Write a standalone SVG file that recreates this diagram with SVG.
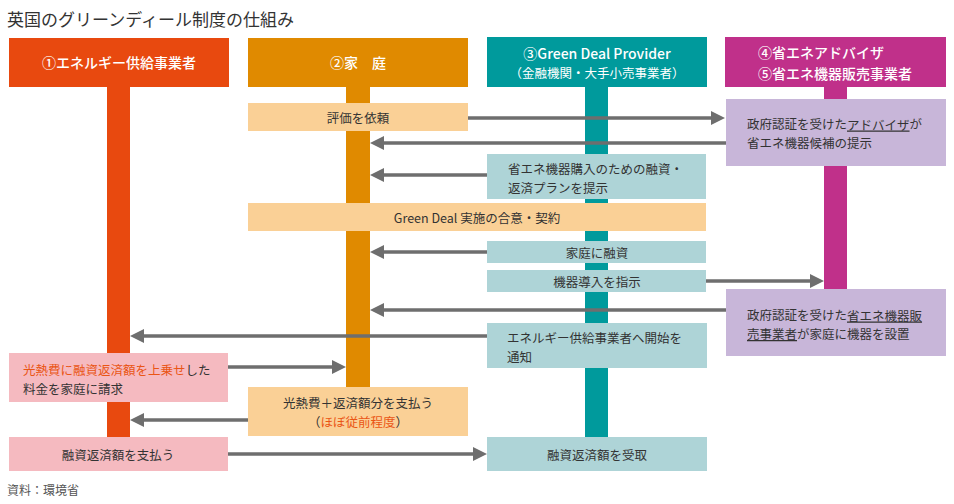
<svg xmlns="http://www.w3.org/2000/svg" width="954" height="504" viewBox="0 0 954 504">
<style>
text{font-family:"Noto Sans CJK JP","Noto Sans",sans-serif;fill:#333;dominant-baseline:central}
.hd{fill:#fff;font-size:14px;font-weight:500}
.hs{fill:#fff;font-size:12.5px;font-weight:400}
.t{font-size:12.5px}
.c{text-anchor:middle}
.r{fill:#EA5514}
.u{text-decoration:underline}
.lo{fill:#FAD096}
.lt{fill:#AED4D7}
.lp{fill:#C8B6D9}
.pk{fill:#F5BAC0}
.ar{stroke:#6E6E6E;stroke-width:3.5;fill:none;marker-end:url(#ah)}
</style>
<defs>
<marker id="ah" viewBox="0 0 14 14" refX="6" refY="7" markerWidth="14" markerHeight="14" markerUnits="userSpaceOnUse" orient="auto">
<path d="M0,0 L14,7 L0,14 z" fill="#6E6E6E"/>
</marker>
</defs>
<rect width="954" height="504" fill="#fff"/>
<text x="7" y="18" style="font-size:17px">英国のグリーンディール制度の仕組み</text>

<g id="actor1">
<rect x="107" y="86" width="23" height="351" fill="#E8490F"/>
<rect x="9" y="38" width="220" height="49" fill="#E8490F"/>
<text class="hd c" x="119" y="62">①エネルギー供給事業者</text>
</g>
<g id="actor2">
<rect x="346" y="86" width="24" height="350" fill="#E08A00"/>
<rect x="248" y="38" width="220" height="49" fill="#E08A00"/>
<text class="hd c" x="358" y="62">②家　庭</text>
</g>
<g id="actor3">
<rect x="585" y="86" width="23" height="351" fill="#009A9C"/>
<rect x="487" y="37" width="220" height="50" fill="#009A9C"/>
<text class="hd c" x="597" y="52.5">③Green Deal Provider<tspan class="hs" x="597" dy="19.5">（金融機関・大手小売事業者）</tspan></text>
</g>
<g id="actor4">
<rect x="824" y="86" width="23" height="204" fill="#C0308A"/>
<rect x="725" y="37" width="221" height="50" fill="#C0308A"/>
<text class="hd" x="758" y="52">④省エネアドバイザ<tspan x="758" dy="20.5">⑤省エネ機器販売事業者</tspan></text>
</g>

<g id="step-request">
<rect class="lo" x="248" y="103" width="220" height="28"/>
<text class="t c" x="358" y="117">評価を依頼</text>
</g>
<g id="step-advisor">
<rect class="lp" x="726" y="99" width="220" height="67"/>
<text class="t" x="747" y="123.5">政府認証を受けた<tspan class="u">アドバイザ</tspan>が<tspan x="747" dy="18.5">省エネ機器候補の提示</tspan></text>
</g>
<g id="step-plan">
<rect class="lt" x="487" y="154" width="219" height="45"/>
<text class="t" x="508" y="168">省エネ機器購入のための融資・<tspan x="508" dy="18.5">返済プランを提示</tspan></text>
</g>
<g id="step-contract">
<rect class="lo" x="248" y="203" width="458" height="28"/>
<text class="t c" x="477" y="217">Green Deal 実施の合意・契約</text>
</g>
<g id="step-loan">
<rect class="lt" x="487" y="241" width="219" height="22"/>
<text class="t c" x="597" y="252">家庭に融資</text>
</g>
<g id="step-order">
<rect class="lt" x="487" y="270" width="219" height="22"/>
<text class="t c" x="597" y="281">機器導入を指示</text>
</g>
<g id="step-install">
<rect class="lp" x="726" y="289" width="220" height="67"/>
<text class="t" x="747" y="314.5">政府認証を受けた<tspan class="u">省エネ機器販</tspan><tspan x="747" dy="18.5" class="u">売事業者</tspan>が家庭に機器を設置</text>
</g>
<g id="step-notify">
<rect class="lt" x="487" y="323" width="220" height="45"/>
<text class="t" x="507" y="337.5">エネルギー供給事業者へ開始を<tspan x="507" dy="18.5">通知</tspan></text>
</g>
<g id="step-bill">
<rect class="pk" x="9" y="353" width="219" height="49"/>
<text class="t" x="23" y="369"><tspan class="r">光熱費に融資返済額を上乗せ</tspan>した<tspan x="23" dy="18.5">料金を家庭に請求</tspan></text>
</g>
<g id="step-pay">
<rect class="lo" x="248" y="387" width="220" height="49"/>
<text class="t c" x="358" y="402.5">光熱費＋返済額分を支払う<tspan x="358" dy="18.5">（</tspan><tspan class="r">ほぼ従前程度</tspan>）</text>
</g>
<g id="step-repay">
<rect class="pk" x="9" y="437" width="219" height="34"/>
<text class="t c" x="118" y="454">融資返済額を支払う</text>
</g>
<g id="step-receive">
<rect class="lt" x="487" y="437" width="220" height="34"/>
<text class="t c" x="597" y="454">融資返済額を受取</text>
</g>

<g id="connectors">
<line class="ar" x1="468" y1="118" x2="717" y2="118"/>
<line class="ar" x1="726" y1="143" x2="378" y2="143"/>
<line class="ar" x1="487" y1="175" x2="378" y2="175"/>
<line class="ar" x1="487" y1="252" x2="378" y2="252"/>
<line class="ar" x1="706" y1="281" x2="816" y2="281"/>
<line class="ar" x1="726" y1="310" x2="378" y2="310"/>
<line class="ar" x1="487" y1="336" x2="138" y2="336"/>
<line class="ar" x1="228" y1="367" x2="338" y2="367"/>
<line class="ar" x1="248" y1="420" x2="138" y2="420"/>
<line class="ar" x1="228" y1="454" x2="479" y2="454"/>
</g>

<text x="7" y="489" style="font-size:12px;fill:#555">資料：環境省</text>
</svg>
